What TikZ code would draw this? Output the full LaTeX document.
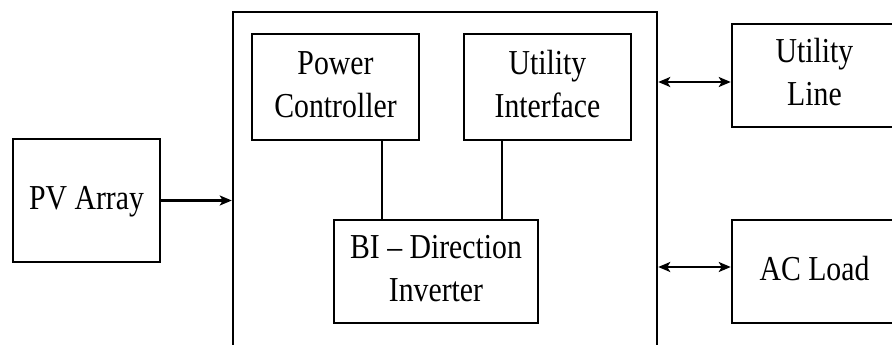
\documentclass[tikz,border=0pt]{standalone}
\usepackage{fontspec}
\setmainfont{Liberation Serif}
\usetikzlibrary{arrows.meta,calc}
\newcommand\lbl[1]{\scalebox{0.85}[1]{\begin{tabular}{@{}c@{}}#1\end{tabular}}}
\begin{document}
\begin{tikzpicture}[x=1pt,y=-1pt,
  blk/.style={draw=black,line width=2.5pt,rectangle,inner sep=0pt,
    font=\fontsize{35}{43}\selectfont,align=center},
  conn/.style={line width=2.2pt},
  tip/.style={Stealth[length=12pt,width=10pt,inset=3pt]},
  arr/.style={line width=2.3pt,-{Stealth[length=12pt,width=10pt,inset=3pt]}},
  darr/.style={line width=2.3pt,{Stealth[length=12pt,width=10pt,inset=3pt]}-{Stealth[length=12pt,width=10pt,inset=3pt]}}]
\useasboundingbox (0,0) rectangle (892,345);
\clip (0,0) rectangle (892,345);
\fill[white] (0,0) rectangle (892,345);
% main enclosure (extends below the picture)
\node[blk,minimum width=424pt,minimum height=360pt] (main) at (445,192) {};
\node[blk,minimum width=147pt,minimum height=123pt] (pv) at (86.5,200.5) {\lbl{PV Array}};
\node[blk,minimum width=167pt,minimum height=106pt] (pc) at (335.5,87) {\lbl{Power\\Controller}};
\node[blk,minimum width=167pt,minimum height=106pt] (ui) at (547.5,87) {\lbl{Utility\\Interface}};
\node[blk,minimum width=204pt,minimum height=103pt] (inv) at (436,271.5) {\lbl{BI -- Direction\\Inverter}};
\node[blk,minimum width=165pt,minimum height=103pt] (ul) at (814.5,75.5) {\lbl{Utility\\Line}};
\node[blk,minimum width=165pt,minimum height=103pt] (ac) at (814.5,271.5) {\lbl{AC Load}};
\coordinate (a1) at (0,82);
\coordinate (a2) at (0,267);
\coordinate (c1) at (382,0);
\coordinate (c2) at (502,0);
\draw[arr] (pv.east) -- (pv.east -| main.west);
\draw[darr] (main.east |- a1) -- (ul.west |- a1);
\draw[darr] (main.east |- a2) -- (ac.west |- a2);
\draw[conn] (pc.south -| c1) -- (inv.north -| c1);
\draw[conn] (ui.south -| c2) -- (inv.north -| c2);
\end{tikzpicture}
\end{document}
